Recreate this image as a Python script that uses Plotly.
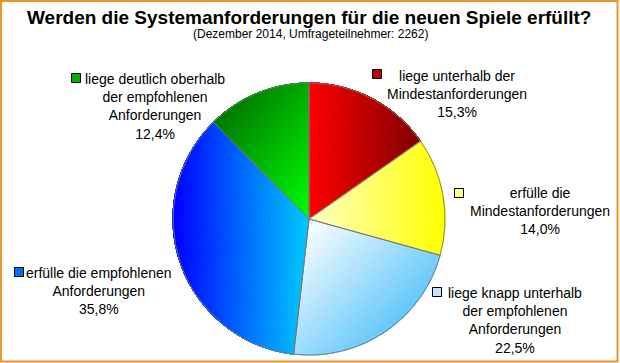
import math
import plotly.graph_objects as go

# ---------------- data ----------------
categories = [
    "liege unterhalb der Mindestanforderungen",
    "erfülle die Mindestanforderungen",
    "liege knapp unterhalb der empfohlenen Anforderungen",
    "erfülle die empfohlenen Anforderungen",
    "liege deutlich oberhalb der empfohlenen Anforderungen",
]
shares = [15.3, 14.0, 22.5, 35.8, 12.4]
label_lines = [
    "liege unterhalb der<br>Mindestanforderungen",
    "erfülle die<br>Mindestanforderungen",
    "liege knapp unterhalb<br>der empfohlenen<br>Anforderungen",
    "erfülle die empfohlenen<br>Anforderungen",
    "liege deutlich oberhalb<br>der empfohlenen<br>Anforderungen",
]
title_text = "Werden die Systemanforderungen für die neuen Spiele erfüllt?"
subtitle_text = "(Dezember 2014, Umfrageteilnehmer: 2262)"

# ---------------- styles ----------------
W, H = 620, 363
# gradient: start colour, end colour, direction (x right, y up)
gradients = [
    ((255, 0, 0), (128, 0, 0), (1.0, 0.0)),
    ((255, 255, 200), (255, 255, 0), (1.0, 0.0)),
    ((255, 255, 255), (100, 200, 250), (1.0, -1.0)),
    ((0, 0, 255), (0, 205, 255), (1.0, 0.0)),
    ((0, 120, 0), (0, 255, 0), (1.0, -0.8)),
]
key_colors = ["#c00000", "#ffff80", "#c0e6ff", "#0070ff", "#00b000"]
# label block centres and key squares (pixels)
label_pos = [(457, 93.5), (540, 211), (515, 320), (99, 291), (155, 106)]
key_pos = [(377, 74), (459, 193), (437, 292), (19, 272), (76, 78)]
KEY = 9
FONT = "Liberation Sans, Arial, sans-serif"

# pie geometry (pixels)
CX, CY, R = 309, 219, 136
domain = dict(x=[(CX - R) / W, (CX + R) / W], y=[1 - (CY + R) / H, 1 - (CY - R) / H])

N_RING = 28
SUB_PER_PCT = 2.2

total = sum(shares)
slice_info = []
acc = 0.0
for i, v in enumerate(shares):
    a0 = 2 * math.pi * acc / total
    a1 = 2 * math.pi * (acc + v) / total
    acc += v
    dx, dy = gradients[i][2]
    pts = [(0.0, 0.0)] + [
        (math.sin(a0 + (a1 - a0) * s / 80), math.cos(a0 + (a1 - a0) * s / 80))
        for s in range(81)
    ]
    proj = [px * dx + py * dy for px, py in pts]
    slice_info.append((a0, a1, min(proj), max(proj)))


def mix(c0, c1, t):
    t = max(0.0, min(1.0, t))
    return "rgb(%d,%d,%d)" % tuple(round(c0[k] + (c1[k] - c0[k]) * t) for k in range(3))


fig = go.Figure()
for k in range(N_RING):
    r = (k + 0.5) / N_RING
    vals, cols = [], []
    for i, v in enumerate(shares):
        a0, a1, pmin, pmax = slice_info[i]
        c0, c1, (dx, dy) = gradients[i]
        m = max(8, int(round(v * SUB_PER_PCT)))
        for j in range(m):
            a = a0 + (a1 - a0) * (j + 0.5) / m
            px, py = r * math.sin(a), r * math.cos(a)
            t = ((px * dx + py * dy) - pmin) / (pmax - pmin)
            vals.append(v / m)
            cols.append(mix(c0, c1, t))
    fig.add_trace(go.Pie(
        values=vals, hole=k / N_RING, sort=False, direction="clockwise",
        rotation=0, textinfo="none", hoverinfo="skip", showlegend=False,
        marker=dict(colors=cols, line=dict(color=cols, width=0.5)),
        domain=domain,
    ))

# outline overlay with the real values
fig.add_trace(go.Pie(
    labels=categories, values=shares, sort=False, direction="clockwise",
    rotation=0, textinfo="none", hoverinfo="label+percent", showlegend=False,
    marker=dict(colors=["rgba(0,0,0,0)"] * len(shares),
                line=dict(color="#777777", width=0.9)),
    domain=domain,
))

annotations = [
    dict(text="<b>%s</b>" % title_text, x=309 / W, y=1 - 17 / H, xref="paper", yref="paper",
         xanchor="center", yanchor="middle", showarrow=False,
         font=dict(family=FONT, size=19, color="black")),
    dict(text=subtitle_text, x=310 / W, y=1 - 34 / H, xref="paper", yref="paper",
         xanchor="center", yanchor="middle", showarrow=False,
         font=dict(family=FONT, size=12, color="black")),
]
shapes = []
for i, v in enumerate(shares):
    pct = ("%.1f" % v).replace(".", ",") + "%"
    lx, ly = label_pos[i]
    annotations.append(dict(
        text=label_lines[i] + "<br>" + pct, x=lx / W, y=1 - ly / H,
        xref="paper", yref="paper", xanchor="center", yanchor="middle",
        align="center", showarrow=False,
        font=dict(family=FONT, size=14, color="black"),
    ))
    kx, ky = key_pos[i]
    shapes.append(dict(
        type="rect", xref="paper", yref="paper",
        x0=(kx - KEY / 2) / W, x1=(kx + KEY / 2) / W,
        y0=1 - (ky + KEY / 2) / H, y1=1 - (ky - KEY / 2) / H,
        fillcolor=key_colors[i], line=dict(color="black", width=1),
    ))

# orange frame
shapes.append(dict(
    type="rect", xref="paper", yref="paper",
    x0=1 / W, x1=617.5 / W, y0=1 - 361.5 / H, y1=1 - 1 / H,
    line=dict(color="#f0922c", width=2), fillcolor="rgba(0,0,0,0)",
))

fig.update_layout(
    width=W, height=H, margin=dict(l=0, r=0, t=0, b=0),
    paper_bgcolor="white", plot_bgcolor="white",
    annotations=annotations, shapes=shapes,
)

fig.write_html(
    "out.html",
    config={"displayModeBar": False},
    post_script="document.body.style.margin='0';document.body.style.overflow='hidden';",
)
